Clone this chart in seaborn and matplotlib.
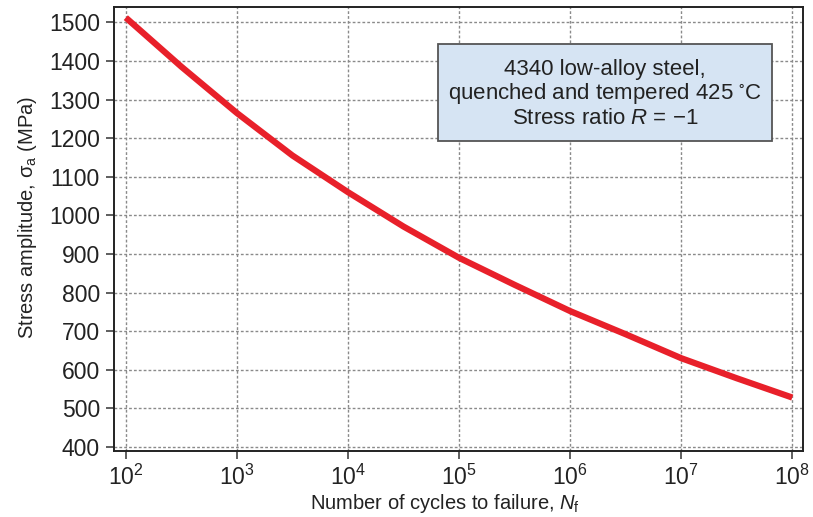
import numpy as np
import pandas as pd
import matplotlib
matplotlib.use("Agg")
import matplotlib.pyplot as plt
import seaborn as sns
from matplotlib.ticker import FixedLocator, LogLocator, LogFormatterMathtext, MultipleLocator, NullFormatter
from matplotlib.patches import Rectangle

# values (cycles, stress amplitude in MPa)
cycles = [1e2, 10**2.5, 1e3, 10**3.5, 1e4, 10**4.5, 1e5, 10**5.5, 1e6, 10**6.5, 1e7, 10**7.5, 1e8]
stress = [1512, 1385, 1265, 1155, 1060, 971, 890, 820, 752, 692, 630, 578, 528]
x_ticks = [1e2, 1e3, 1e4, 1e5, 1e6, 1e7, 1e8]
y_ticks = [400, 500, 600, 700, 800, 900, 1000, 1100, 1200, 1300, 1400, 1500]
box_lines = ["4340 low-alloy steel,",
             "quenched and tempered 425 $^{\\circ}$C",
             "Stress ratio $\\mathit{R}$ = $-$1"]

sns.set_style("white")
plt.rcParams['font.family'] = ['Liberation Sans', 'DejaVu Sans']
plt.rcParams['mathtext.fontset'] = 'custom'
plt.rcParams['mathtext.rm'] = 'Liberation Sans'
plt.rcParams['mathtext.it'] = 'Liberation Sans:italic'
plt.rcParams['mathtext.default'] = 'regular'

text_col = '#222222'
label_fs = 14.5
tick_fs = 16.5
box_fs = 16

df = pd.DataFrame({'cycles': cycles, 'stress': stress})

fig = plt.figure(figsize=(8.13, 5.17), dpi=100)
ax = fig.add_axes([0.140, 0.128, 0.848, 0.858])

sns.lineplot(data=df, x='cycles', y='stress', ax=ax, color='#e8202a', linewidth=4.5,
             solid_capstyle='butt', zorder=3)

ax.set_xscale('log')
ax.set_xlim(10**1.892, 10**8.099)
ax.set_ylim(390, 1539)

ax.xaxis.set_major_locator(FixedLocator(x_ticks))
ax.xaxis.set_major_formatter(LogFormatterMathtext())
ax.xaxis.set_minor_locator(LogLocator(base=10, subs=np.arange(2, 10), numticks=20))
ax.xaxis.set_minor_formatter(NullFormatter())
ax.set_yticks(y_ticks)
ax.yaxis.set_minor_locator(MultipleLocator(10))

ax.tick_params(axis='both', which='major', direction='out', length=6, width=1.1,
               labelsize=tick_fs, labelcolor=text_col, color='#333333', pad=4)
ax.tick_params(axis='both', which='minor', direction='out', length=3.5, width=0.9,
               color='#333333')
ax.tick_params(bottom=True, left=True, top=False, right=False)

ax.grid(True, which='major', color='#8a8a8a', linestyle=(0, (2, 1.5)), linewidth=1.0, zorder=0)

for s in ax.spines.values():
    s.set_visible(True)
    s.set_color('#222222')
    s.set_linewidth(1.4)

ax.set_xlabel('Number of cycles to failure, $\\mathit{N}_\\mathrm{f}$', fontsize=label_fs,
              color=text_col)
ax.set_ylabel('Stress amplitude, $\\sigma_\\mathrm{a}$ (MPa)', fontsize=label_fs,
              color=text_col)
ax.xaxis.set_label_coords(0.480, -0.093)
ax.yaxis.set_label_coords(-0.108, 0.525)

# annotation box
ax.add_patch(Rectangle((0.470, 0.698), 0.485, 0.218, transform=ax.transAxes,
                       facecolor='#d6e4f3', edgecolor='#555555', linewidth=1.3, zorder=4))
ax.text(0.7125, 0.805, "\n".join(box_lines), transform=ax.transAxes, ha='center',
        va='center', multialignment='center', fontsize=box_fs, color=text_col,
        linespacing=1.1, zorder=5)

fig.savefig('out.png', dpi=100)
